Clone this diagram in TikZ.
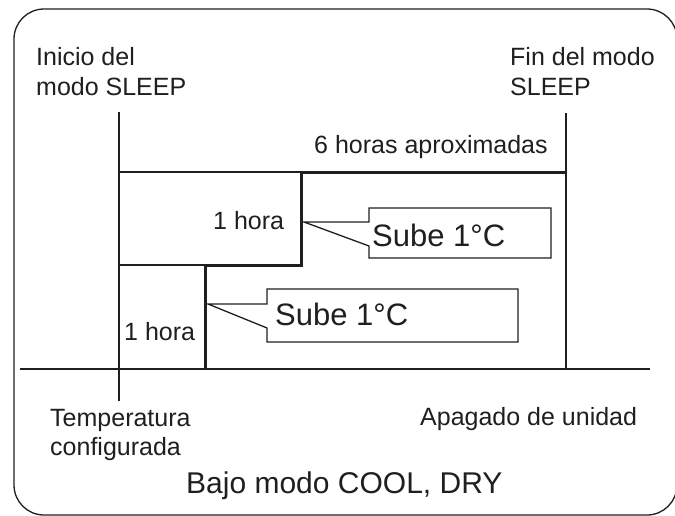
\documentclass[tikz,border=0pt]{standalone}
\usepackage{fontspec}
\setmainfont{Liberation Sans}
\begin{document}
\begin{tikzpicture}[x=1pt,y=-1pt,
  thinln/.style={line width=1.3pt,draw=black!88},
  thickln/.style={line width=3pt,draw=black!88},
  lbl/.style={anchor=base west,inner sep=0pt,font=\fontsize{25}{30}\selectfont,text=black!88},
  biglbl/.style={anchor=base west,inner sep=0pt,font=\fontsize{31}{36}\selectfont,text=black!88},
  callout/.style={line width=1.3pt,draw=black!88,fill=white,line join=miter}]
\useasboundingbox (0,0) rectangle (675,515);
\begin{scope}
\clip (0,0) rectangle (675,515);
\draw[thinln,rounded corners=30pt] (14,9) rectangle (677,515);
\end{scope}
% coordinates
\coordinate (vlt) at (119,112);
\coordinate (vlb) at (119,401);
\coordinate (vrt) at (566,113);
\coordinate (vrb) at (566,369);
\coordinate (bl) at (20,369);
\coordinate (br) at (650,369);
\coordinate (s0) at (205,369);
\coordinate (s1) at (205,265);
\coordinate (s2) at (301,265);
\coordinate (s3) at (301,172);
\coordinate (s4) at (566,172);
\coordinate (t1) at (119,172);
\coordinate (t2) at (119,265);
% axes and guides
\draw[thinln] (vlt) -- (vlb);
\draw[thinln] (vrt) -- (vrb);
\draw[thinln] (bl) -- (br);
\draw[thinln] (t1) -- (s3);
\draw[thinln] (t2) -- (s1);
\draw[thickln,line join=miter] (s0) -- (s1) -- (s2) -- (s3) -- (s4);
% callouts
\coordinate (ctip1) at (304,222);
\coordinate (ctip2) at (208,304);
\draw[callout] (369,208) -- (551,208) -- (551,258) -- (369,258) -- (369,246) -- (ctip1) -- (369,222) -- cycle;
\draw[callout] (267,289) -- (518,289) -- (518,342) -- (267,342) -- (267,328) -- (ctip2) -- (267,304) -- cycle;
\node[biglbl] (sube1) at (372,246) {Sube 1°C};
\node[biglbl] (sube2) at (275,325) {Sube 1°C};
% labels
\node[lbl] (ini1) at (36,65) {Inicio del};
\node[lbl] (ini2) at (36,95) {modo SLEEP};
\node[lbl] (fin1) at (510,65) {Fin del modo};
\node[lbl] (fin2) at (510,95) {SLEEP};
\node[lbl] (seis) at (314,153) {6 horas aproximadas};
\node[lbl] (h1) at (213,229) {1 hora};
\node[lbl] (h2) at (124,340) {1 hora};
\node[lbl] (temp1) at (50,426) {Temperatura};
\node[lbl] (temp2) at (50,455) {configurada};
\node[lbl] (apag) at (420,425) {Apagado de unidad};
\node[anchor=base west,inner sep=0pt,font=\fontsize{30}{36}\selectfont,text=black!88] (bajo) at (186,493) {Bajo modo COOL, DRY};
\end{tikzpicture}
\end{document}
